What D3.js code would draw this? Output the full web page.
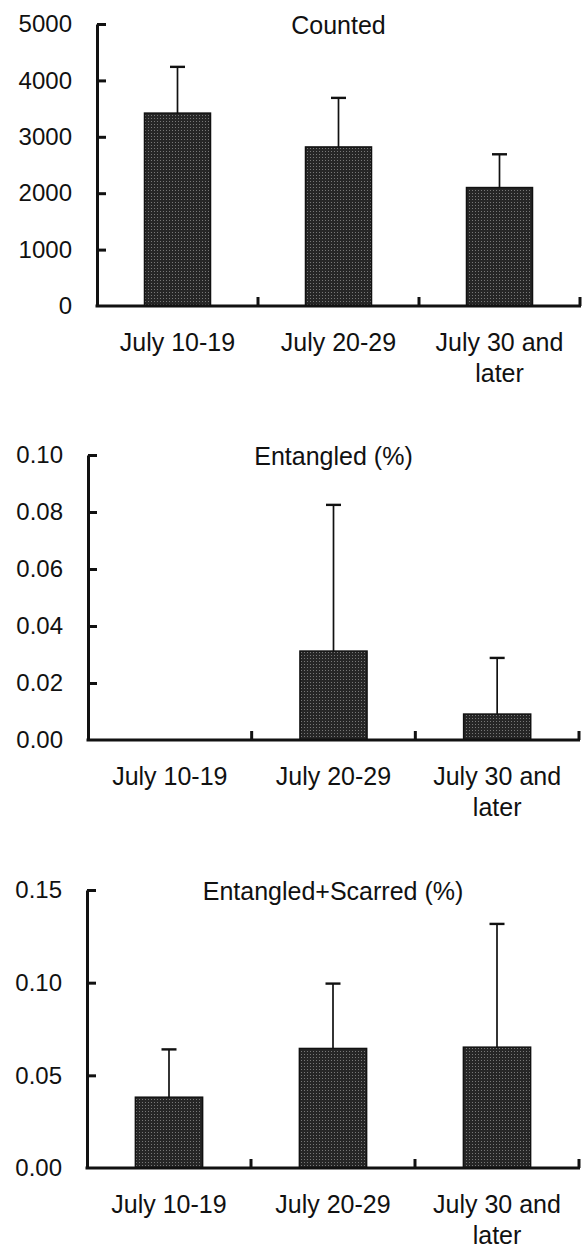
<!DOCTYPE html>
<html>
<head>
<meta charset="utf-8">
<script src="https://cdn.jsdelivr.net/npm/d3@7/dist/d3.min.js"></script>
<style>
  html, body { margin: 0; padding: 0; background: #fff; }
  svg { display: block; }
  text { font-family: "Liberation Sans", Arial, Helvetica, sans-serif; fill: #111; }
</style>
</head>
<body>
<svg id="chart" width="584" height="1249"></svg>
<script>
// ---- data ----
const categories = [["July 10-19"], ["July 20-29"], ["July 30 and", "later"]];

const countedMean = [3420, 2820, 2100];
const countedErr  = [820, 870, 590];
const countedTicks = [0, 1000, 2000, 3000, 4000, 5000];

const entangledMean = [0, 0.0312, 0.0091];
const entangledErr  = [0, 0.0513, 0.0197];
const entangledTicks = [0, 0.02, 0.04, 0.06, 0.08, 0.10];

const scarredMean = [0.0382, 0.0645, 0.0652];
const scarredErr  = [0.0258, 0.0350, 0.0665];
const scarredTicks = [0, 0.05, 0.10, 0.15];

const panels = [
  { title: "Counted", mean: countedMean, err: countedErr, ticks: countedTicks, fmt: d3.format("d"),
    x0: 97, x1: 580, yTop: 24, yBase: 306 },
  { title: "Entangled (%)", mean: entangledMean, err: entangledErr, ticks: entangledTicks, fmt: d3.format(".2f"),
    x0: 88, x1: 579, yTop: 455, yBase: 740 },
  { title: "Entangled+Scarred (%)", mean: scarredMean, err: scarredErr, ticks: scarredTicks, fmt: d3.format(".2f"),
    x0: 87, x1: 579, yTop: 890, yBase: 1168 }
];

const svg = d3.select("#chart");
const defs = svg.append("defs");
const pat = defs.append("pattern").attr("id", "stipple")
  .attr("patternUnits", "userSpaceOnUse").attr("width", 3).attr("height", 3);
pat.append("rect").attr("width", 3).attr("height", 3).attr("fill", "#262626");
pat.append("rect").attr("x", 1).attr("y", 1).attr("width", 1).attr("height", 1).attr("fill", "#777");

const labels = categories.map(c => c.join(" "));

panels.forEach(p => {
  const g = svg.append("g");
  const x = d3.scaleBand().domain(labels).range([p.x0, p.x1]).paddingInner(0).paddingOuter(0);
  const yMax = p.ticks[p.ticks.length - 1];
  const y = d3.scaleLinear().domain([0, yMax]).range([p.yBase, p.yTop]);
  const bw = x.bandwidth() * 0.41;

  // bars
  const data = labels.map((l, i) => ({ l, m: p.mean[i], e: p.err[i] }));
  g.selectAll("rect.bar").data(data.filter(d => d.m > 0)).join("rect")
    .attr("class", "bar")
    .attr("x", d => x(d.l) + x.bandwidth() / 2 - bw / 2)
    .attr("width", bw)
    .attr("y", d => y(d.m))
    .attr("height", d => y(0) - y(d.m))
    .attr("fill", "url(#stipple)")
    .attr("stroke", "#111").attr("stroke-width", 1.5);

  // error bars
  const eb = g.selectAll("g.err").data(data.filter(d => d.e > 0)).join("g").attr("class", "err");
  eb.append("line")
    .attr("x1", d => x(d.l) + x.bandwidth() / 2).attr("x2", d => x(d.l) + x.bandwidth() / 2)
    .attr("y1", d => y(d.m)).attr("y2", d => y(d.m + d.e))
    .attr("stroke", "#111").attr("stroke-width", 1.7);
  eb.append("line")
    .attr("x1", d => x(d.l) + x.bandwidth() / 2 - 7.5).attr("x2", d => x(d.l) + x.bandwidth() / 2 + 7.5)
    .attr("y1", d => y(d.m + d.e)).attr("y2", d => y(d.m + d.e))
    .attr("stroke", "#111").attr("stroke-width", 2.4);

  // y axis
  const yAxis = d3.axisLeft(y).tickValues(p.ticks).tickFormat(p.fmt)
    .tickSizeInner(-9).tickSizeOuter(0).tickPadding(25);
  const ya = g.append("g").attr("transform", `translate(${p.x0},0)`).call(yAxis);
  ya.select(".domain").attr("stroke", "#111").attr("stroke-width", 3);
  ya.selectAll(".tick line").attr("stroke", "#111").attr("stroke-width", 3)
    .filter(d => d === 0).remove();
  ya.selectAll(".tick text").attr("font-size", 24).attr("fill", "#111")
    .attr("font-family", "'Liberation Sans', Arial, sans-serif");

  // x axis baseline + separator ticks
  g.append("line").attr("x1", p.x0 - 1.5).attr("x2", p.x1 + 1)
    .attr("y1", y(0)).attr("y2", y(0)).attr("stroke", "#111").attr("stroke-width", 3);
  const seps = labels.slice(1).map(l => x(l)).concat([p.x1]);
  g.selectAll("line.sep").data(seps).join("line").attr("class", "sep")
    .attr("x1", d => d).attr("x2", d => d)
    .attr("y1", y(0)).attr("y2", y(0) - 9)
    .attr("stroke", "#111").attr("stroke-width", 3);

  // category labels
  const cl = g.selectAll("text.cat").data(categories).join("text").attr("class", "cat")
    .attr("text-anchor", "middle").attr("font-size", 25)
    .attr("x", (d, i) => x(labels[i]) + x.bandwidth() / 2)
    .attr("y", y(0) + 36).attr("dominant-baseline", "central");
  cl.selectAll("tspan").data(d => d).join("tspan")
    .attr("x", function () { return this.parentNode.getAttribute("x"); })
    .attr("dy", (d, i) => i === 0 ? 0 : 31)
    .text(d => d);

  // title
  g.append("text").attr("x", (p.x0 + p.x1) / 2).attr("y", y(yMax) + 1)
    .attr("text-anchor", "middle").attr("dominant-baseline", "central")
    .attr("font-size", 25).text(p.title);
});
</script>
</body>
</html>
